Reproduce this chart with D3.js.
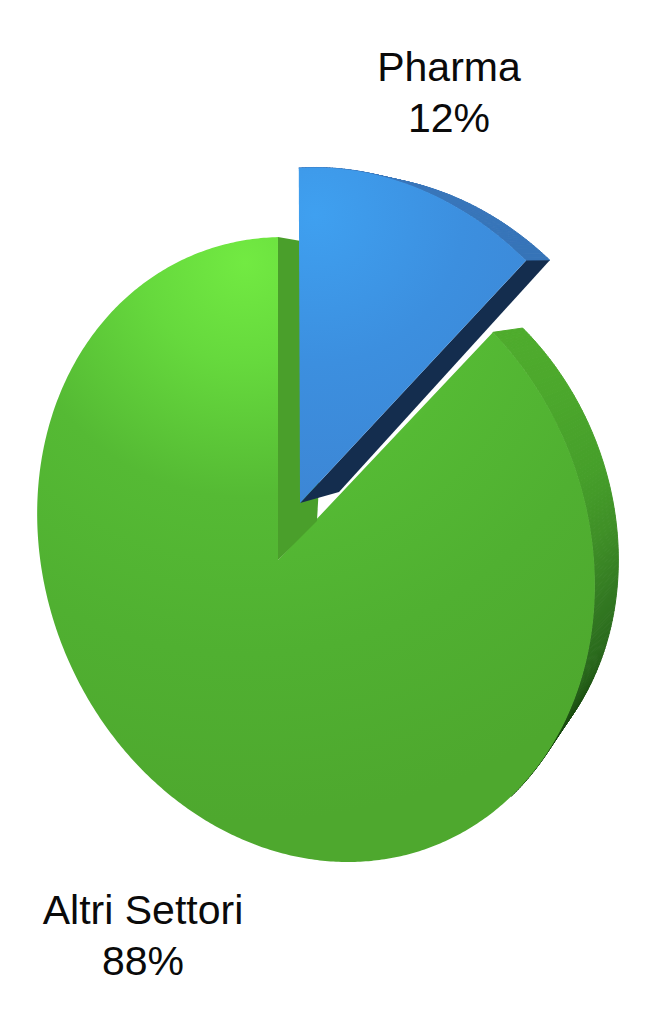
<!DOCTYPE html>
<html>
<head>
<meta charset="utf-8">
<script src="https://d3js.org/d3.v7.min.js"></script>
<style>
    html, body { margin: 0; padding: 0; background: #fff; }
    text { font-family: "Liberation Sans", sans-serif; font-size: 41px; fill: #0a0a0a; text-anchor: middle; }
</style>
</head>
<body>
<div id="chart"></div>
<script>
// Chart values
var categories = ["Pharma", "Altri Settori"];
var shares = [12, 88];

var width = 668;
var height = 1024;

// ***** PERSPECTIVE FRAMES *****
// Each one puts the unit circle of the pie on a tilted disc seen in perspective.
// cx,cy is the middle of the drawn ellipse, dx,dy where the pie centre lands in it
var ellipseWide = 277;
var ellipseLean = 32;
var ellipseTall = 312.5;

var greenFront = { cx: 316, cy: 549.5, s: 1, dx: -0.141, dy: -0.0336, turn: 6.78 };
var greenBack = { cx: 367.4, cy: 527.6, s: 0.9, dx: -0.1995, dy: 0.0235, turn: 10.2 };
var blueFront = { cx: 348, cy: 492.5, s: 1.04, dx: -0.1703, dy: -0.0323, turn: 6.6 };
var blueBack = { cx: 383.5, cy: 488, s: 1, dx: -0.1621, dy: -0.0128, turn: 5.95 };

function project(frame, angle, r) {
    var a = angle + frame.turn * Math.PI / 180;
    var u = r * Math.sin(a);
    var w = r * Math.cos(a);
    var d2 = frame.dx * frame.dx + frame.dy * frame.dy;
    var dot = u * frame.dx + w * frame.dy;
    var k = dot / d2;
    var g = Math.sqrt(1 - d2);
    var pu = (k * frame.dx + frame.dx + g * (u - k * frame.dx)) / (1 + dot);
    var pw = (k * frame.dy + frame.dy + g * (w - k * frame.dy)) / (1 + dot);
    return [
        frame.cx + frame.s * (ellipseWide * pu - ellipseLean * pw),
        frame.cy - frame.s * ellipseTall * pw
    ];
}

function rimAngles(startAngle, endAngle) {
    var n = Math.ceil((endAngle - startAngle) / 0.01);
    return d3.range(n + 1).map(function(i) {
        return startAngle + (endAngle - startAngle) * i / n;
    });
}

var pie = d3.pie().sort(null).value(function(d) { return d; });
var slices = pie(shares);
var line = d3.line();

var svg = d3.select("#chart")
    .append("svg")
    .attr("width", width)
    .attr("height", height)
    .style("display", "block");

// ***** GRADIENTS *****
var defs = svg.append("defs");

function radial(id, x, y, r, stops) {
    var grad = defs.append("radialGradient")
        .attr("id", id)
        .attr("gradientUnits", "userSpaceOnUse")
        .attr("cx", x)
        .attr("cy", y)
        .attr("r", r);
    stops.forEach(function(s) {
        grad.append("stop").attr("offset", s[0]).attr("stop-color", s[1]);
    });
}

radial("greenFace", 245, 262, 560, [
    [0, "#72ea42"], [0.18, "#66d93d"], [0.42, "#55ba34"], [0.7, "#50b031"], [1, "#4ea82e"]
]);
radial("blueFace", 315, 215, 330, [
    [0, "#3fa0f0"], [0.45, "#3c8fdf"], [1, "#3d84d2"]
]);

// shading of the outer walls, by angle in degrees
var greenWall = d3.scaleLinear()
    .domain([43, 55, 70, 80, 90, 100, 110, 120, 130])
    .range(["#4fac2d", "#4ca82c", "#469f2a", "#3f8f27", "#337a22", "#2a6a1c", "#1d5212", "#12400c", "#12400c"]);
var blueWall = d3.scaleLinear()
    .domain([0, 43.2])
    .range(["#3b78bd", "#3674b8"]);

function drawWall(startAngle, endAngle, frontFrame, backFrame, shade) {
    var angles = rimAngles(startAngle, endAngle);
    // from the far end back, so the nearer pieces sit on top
    d3.range(angles.length - 2, -1, -1).forEach(function(i) {
        var a0 = angles[i];
        var a1 = angles[i + 1];
        var col = shade(a0 * 180 / Math.PI);
        svg.append("path")
            .attr("d", line([
                project(frontFrame, a0, 1),
                project(frontFrame, a1, 1),
                project(backFrame, a1, 1),
                project(backFrame, a0, 1)
            ]) + "Z")
            .attr("fill", col)
            .attr("stroke", col)
            .attr("stroke-width", 1);
    });
}

function drawFace(slice, frame, fill) {
    var pts = [project(frame, 0, 0)].concat(rimAngles(slice.startAngle, slice.endAngle).map(function(a) {
        return project(frame, a, 1);
    }));
    svg.append("path")
        .attr("d", line(pts) + "Z")
        .attr("fill", fill);
}

function drawCut(angle, frontFrame, backFrame, fill) {
    svg.append("path")
        .attr("d", line([
            project(frontFrame, 0, 0),
            project(frontFrame, angle, 1),
            project(backFrame, angle, 1),
            project(backFrame, 0, 0)
        ]) + "Z")
        .attr("fill", fill);
}

// ***** GREEN SLICE *****
// past about 128 degrees the wall is hidden behind the face
drawWall(slices[1].startAngle, 128 * Math.PI / 180, greenFront, greenBack, greenWall);
drawFace(slices[1], greenFront, "url(#greenFace)");
drawCut(slices[1].endAngle % (2 * Math.PI), greenFront, greenBack, "#4a9f2b");

// ***** BLUE SLICE *****
drawWall(slices[0].startAngle, slices[0].endAngle, blueFront, blueBack, blueWall);
drawCut(slices[0].endAngle, blueFront, blueBack, "#142d4e");
drawFace(slices[0], blueFront, "url(#blueFace)");

// ***** LABELS *****
var labelSpots = [[449, 81], [143, 924]];
var lineGap = 51;

categories.forEach(function(name, i) {
    svg.append("text").attr("x", labelSpots[i][0]).attr("y", labelSpots[i][1]).text(name);
    svg.append("text").attr("x", labelSpots[i][0]).attr("y", labelSpots[i][1] + lineGap).text(shares[i] + "%");
});
</script>
</body>
</html>
